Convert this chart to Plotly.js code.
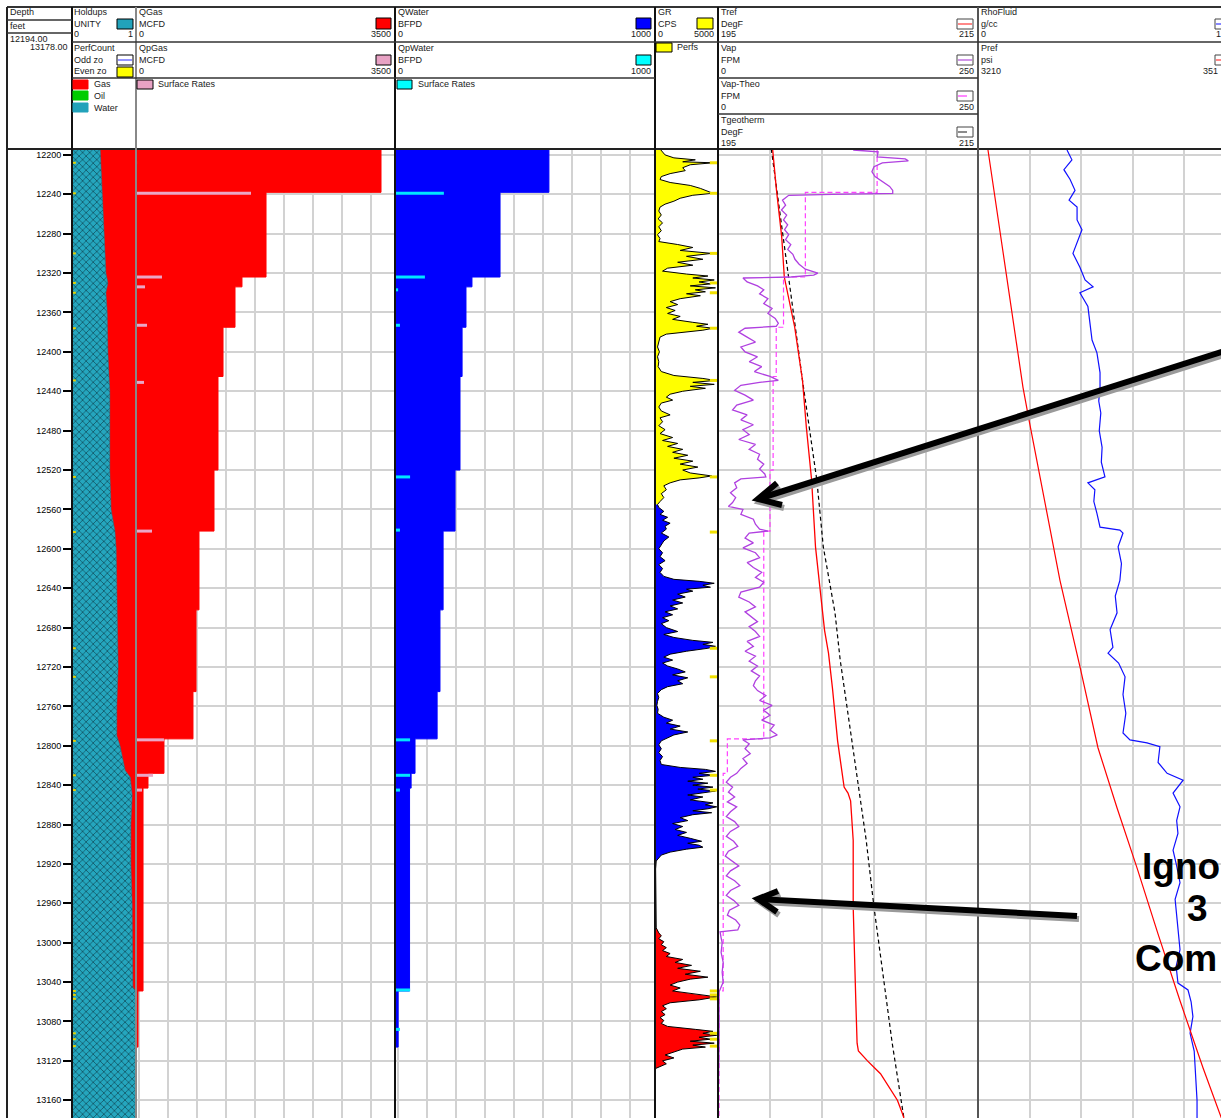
<!DOCTYPE html>
<html><head><meta charset="utf-8">
<script src="https://cdn.plot.ly/plotly-3.0.1.min.js"></script>
<style>html,body{margin:0;padding:0;overflow:hidden;background:#fff}#chart{width:1221px;height:1118px}</style>
</head><body><div id="chart"></div>
<script>
// ---------------- DATA ----------------
const depthTop = 12194, depthBottom = 13178;

const holdupDepth = [12194,12240,12280,12320,12330,12340,12360,12400,12440,12480,12520,12560,12582,12600,12640,12680,12720,12760,12790,12800,12815,12825,12832,12850,12880,12920,12960,13000,13045,13050,13178];
const holdupWater = [0.44,0.47,0.50,0.53,0.56,0.53,0.55,0.56,0.59,0.59,0.59,0.61,0.67,0.69,0.70,0.70,0.72,0.70,0.70,0.75,0.80,0.83,0.91,0.94,0.92,0.92,0.94,0.95,0.95,1.0,1.0];

const rateTops     = [12194,12238,12324,12334,12375,12425,12520,12582,12662,12745,12793,12828,12843,13049,13106];
const qgasValues   = [3311,1757,1432,1338,1176,1108,1054,851,811,770,378,162,95,27,0];
const qwaterValues = [592,404,296,273,258,250,231,185,173,162,77,62,56,12,0];

const qpgasDepth   = [12208,12239,12324,12334,12373,12431,12582,12794,12830,12845];
const qpgasValues  = [14,1554,351,122,149,108,216,378,230,81];
const qpwaterDepth = [12239,12324,12337,12373,12527,12581,12794,12830,12845,13048,13088];
const qpwaterValues= [188,115,12,19,58,19,58,58,19,58,19];

const perfDepths = [12208,12239,12300,12330,12340,12376,12429,12527,12583,12701,12730,12795,12830,12845,13049,13053,13057,13092,13098,13105];

const grDepth = [12194,12197,12200,12203,12205,12207,12208,12210,12213,12216,12219,12222,12225,12228,12231,12234,12237,12239,12241,12244,12247,12250,12253,12257,12261,12265,12269,12273,12277,12281,12285,12288,12291,12294,12297,12300,12303,12306,12309,12312,12315,12318,12321,12323,12325,12327,12329,12331,12333,12335,12337,12339,12341,12343,12346,12349,12352,12355,12358,12361,12364,12367,12370,12372,12374,12376,12378,12380,12382,12385,12390,12395,12400,12405,12410,12415,12420,12424,12427,12429,12431,12433,12435,12437,12440,12443,12446,12449,12452,12456,12460,12464,12467,12471,12475,12479,12483,12487,12490,12493,12496,12499,12502,12505,12508,12511,12514,12517,12520,12523,12526,12528,12530,12533,12536,12540,12544,12548,12552,12555,12558,12562,12565,12568,12571,12574,12577,12580,12584,12588,12592,12596,12600,12604,12608,12612,12616,12620,12624,12628,12631,12633,12635,12637,12639,12641,12643,12646,12649,12652,12655,12658,12661,12664,12667,12670,12673,12676,12680,12684,12687,12690,12693,12695,12697,12699,12701,12704,12707,12710,12713,12716,12719,12722,12725,12728,12731,12734,12737,12740,12743,12747,12751,12755,12759,12763,12767,12771,12774,12777,12780,12783,12786,12789,12792,12795,12799,12803,12807,12811,12815,12819,12822,12824,12826,12828,12830,12832,12834,12836,12838,12840,12842,12844,12846,12848,12850,12852,12855,12858,12860,12862,12864,12866,12868,12870,12873,12876,12879,12882,12885,12888,12891,12894,12897,12899,12901,12903,12905,12908,12911,12914,12917,12925,12940,12955,12970,12985,12990,12993,12996,12999,13002,13005,13008,13011,13014,13017,13020,13023,13026,13029,13032,13035,13037,13040,13043,13046,13049,13052,13055,13058,13061,13064,13067,13070,13073,13076,13079,13082,13085,13088,13090,13092,13094,13096,13098,13100,13102,13104,13106,13108,13111,13114,13117,13120,13123,13126,13128,13178];
const grValues = [400,600,800,1500,3200,2200,4600,2800,2200,2400,1200,500,400,1200,2800,3600,4300,4600,3000,2000,1500,800,400,300,500,250,600,300,500,200,400,300,1800,3000,2000,4500,2500,3800,1800,3000,1000,600,2500,4200,3000,4700,3500,4400,2800,4800,3200,4000,2500,3600,2000,1200,1800,900,1600,1000,2000,1400,3000,4200,3300,4600,3800,2500,900,400,300,200,350,200,300,250,500,1500,3800,4800,3000,4700,2800,4000,2200,1200,900,1400,500,300,500,1200,400,600,300,800,400,1400,600,1800,1000,2200,1400,2600,1500,3000,2000,3400,2200,2800,4500,3500,2000,1200,700,900,500,700,400,200,300,700,400,1000,600,1200,800,900,500,1100,700,500,300,600,400,800,300,600,400,700,1500,3500,4700,3800,4400,2500,3000,1800,2400,1400,2200,1200,1800,800,1400,600,1100,500,900,1800,700,1500,3000,4600,3800,4800,4200,2500,1200,700,1400,600,1000,1800,2400,1400,2600,1800,2200,1000,500,200,300,200,150,250,200,700,1400,900,2000,1200,2600,1500,1000,500,300,500,300,600,400,500,2000,4000,4800,3500,4600,3000,3800,2600,4200,3000,4600,3400,4800,3600,2600,3800,2800,4600,4000,4900,4200,3000,4500,3000,2000,2600,1400,2200,1600,2500,1800,2800,3700,2600,3500,3800,2500,1200,500,300,100,50,60,40,80,100,300,500,300,700,500,900,600,1200,900,2200,1600,2900,1800,3600,2400,4200,2800,1800,1200,2000,1400,3000,4900,3500,1200,600,900,500,800,400,700,500,1000,3200,4600,3800,4900,3500,4400,2800,4700,3000,4000,2200,1500,800,1500,600,900,300,0,0];
const grZoneTops    = [12194,12555,12985];
const grZoneBottoms = [12555,12917,13178];

const trefDepth  = [12194,12236,12283,12324,12375,12429,12477,12530,12598,12649,12683,12706,12741,12795,12842,12848,12856,12896,12964,13059,13102,13110,13120,13133,13147,13160,13174,13178];
const trefValues = [199.2,199.5,199.9,200.1,200.9,201.5,201.8,202.2,202.5,202.9,203.2,203.5,203.8,204.2,204.7,205.0,205.2,205.4,205.4,205.6,205.7,205.8,206.5,207.5,208.2,208.8,209.2,209.3];

const tgeoDepth  = [12194,12429,12530,12598,12665,12713,12795,12896,12964,13102,13178];
const tgeoValues = [199.1,201.5,202.6,203.1,204.0,204.4,205.3,206.4,207.0,208.4,209.3];

const vapTheoTops   = [12194,12238,12324,12375,12425,12520,12582,12793,12828,13049];
const vapTheoValues = [153,84,63,56,53,50,44,9,5,1];

const vapDepth = [12195,12197,12202,12204,12206,12208,12212,12217,12222,12227,12232,12236,12239,12240,12241,12246,12251,12256,12261,12266,12271,12276,12281,12286,12291,12296,12301,12306,12311,12316,12320,12322,12324,12325,12329,12333,12337,12341,12346,12351,12356,12361,12366,12371,12374,12376,12380,12385,12390,12395,12400,12405,12410,12415,12420,12425,12429,12431,12434,12439,12444,12449,12454,12459,12464,12469,12474,12479,12484,12489,12494,12499,12504,12509,12514,12519,12524,12527,12529,12533,12538,12543,12548,12553,12557,12560,12565,12570,12575,12580,12582,12584,12589,12594,12599,12604,12609,12614,12619,12624,12629,12634,12639,12644,12649,12654,12659,12664,12669,12674,12679,12684,12689,12694,12699,12704,12709,12714,12719,12724,12729,12734,12739,12744,12749,12754,12759,12764,12769,12774,12779,12784,12789,12792,12794,12798,12803,12808,12813,12818,12823,12828,12832,12837,12842,12847,12852,12857,12862,12867,12872,12877,12882,12887,12892,12897,12902,12907,12912,12917,12922,12927,12932,12937,12942,12947,12952,12957,12962,12967,12972,12977,12982,12987,12989,12995,13000,13010,13020,13030,13040,13045,13050,13100,13178];
const vapValues = [130,154,153,180,183,158,150,148,151,158,165,168,168,110,68,62,65,61,66,63,67,64,68,65,70,67,72,74,78,84,96,92,70,24,28,38,44,40,48,44,52,48,55,58,56,26,20,28,36,22,26,38,30,42,35,50,58,40,22,16,26,34,18,14,28,22,34,24,30,20,36,30,40,38,44,40,45,46,22,16,18,12,17,14,10,24,22,34,36,40,48,30,26,34,24,36,40,28,34,42,36,44,40,22,20,30,36,26,32,38,30,36,40,28,34,26,36,30,38,32,40,36,34,38,46,40,52,44,50,42,54,50,57,50,24,30,26,31,24,28,22,18,12,8,14,10,16,9,18,12,8,16,20,12,8,15,19,10,7,14,20,12,8,16,21,12,8,15,20,11,9,17,21,19,2,3,4,3,5,4,5,3,1,1,0];

const rhoDepth  = [12195,12205,12215,12225,12236,12246,12253,12266,12276,12286,12300,12314,12327,12334,12340,12354,12371,12388,12401,12421,12436,12450,12462,12480,12497,12512,12527,12533,12540,12552,12564,12578,12581,12584,12598,12615,12632,12648,12665,12682,12700,12706,12716,12730,12748,12767,12787,12794,12797,12801,12817,12828,12835,12848,12862,12876,12889,12906,12922,12939,12956,12974,12990,13007,13024,13041,13048,13060,13075,13092,13110,13126,13143,13160,13178];
const rhoValues = [0.345,0.364,0.333,0.357,0.376,0.353,0.384,0.384,0.403,0.388,0.368,0.395,0.415,0.446,0.395,0.426,0.434,0.442,0.461,0.473,0.473,0.468,0.476,0.470,0.481,0.478,0.492,0.426,0.453,0.449,0.461,0.473,0.550,0.562,0.543,0.556,0.550,0.532,0.539,0.512,0.523,0.504,0.545,0.570,0.562,0.573,0.562,0.589,0.655,0.705,0.698,0.733,0.795,0.756,0.783,0.770,0.775,0.756,0.770,0.783,0.764,0.771,0.778,0.783,0.768,0.775,0.814,0.826,0.833,0.822,0.838,0.841,0.845,0.849,0.849];

const prefDepth  = [12195,12436,12469,12564,12632,12720,12802,12863,12924,12991,13059,13127,13174,13178];
const prefValues = [3221.6,3262.3,3269.3,3290.2,3305.3,3328.6,3349.5,3371.6,3394.9,3419.3,3444.9,3471.6,3491.4,3493];

// ---------------- HELPERS ----------------
const W = 1221, H = 1118;
const px = x => x / W, py = y => 1 - y / H;
const FONT = 'Arial, "Liberation Sans", sans-serif';

function stepXY(tops, vals, bottom) {
  const x = vals.slice(), y = tops.slice();
  x.push(vals[vals.length - 1]); y.push(bottom);
  return {x, y};
}
function segs(depths, vals, base) {
  const x = [], y = [];
  depths.forEach((d, i) => { x.push(base, vals[i], null); y.push(d, d, null); });
  return {x, y};
}
function zone(dep, val, top, bot) {
  const x = [], y = [];
  dep.forEach((d, i) => { if (d >= top && d <= bot) { x.push(val[i]); y.push(d); } });
  return {x, y};
}

// ---------------- TRACES ----------------
const traces = [];
// Holdups
traces.push({x:[1,1], y:[depthTop, depthBottom], xaxis:'x', yaxis:'y', mode:'lines', line:{width:0, color:'#ff0000'}, fill:'tozerox', fillcolor:'#ff0000', hoverinfo:'skip'});
traces.push({x:holdupWater, y:holdupDepth, xaxis:'x', yaxis:'y', mode:'lines', line:{width:0.5, color:'#1b7f93'}, fill:'tozerox', fillcolor:'#22a2ba',
  fillpattern:{shape:'x', bgcolor:'#25a6be', fgcolor:'#082c38', size:5, solidity:0.2}, hoverinfo:'skip'});
const hp = segs(perfDepths, perfDepths.map(() => 0.06), 0);
traces.push({x:hp.x, y:hp.y, xaxis:'x', yaxis:'y', mode:'lines', line:{color:'#e6d200', width:2}, hoverinfo:'skip'});

// QGas
const qg = stepXY(rateTops, qgasValues, depthBottom);
traces.push({x:qg.x, y:qg.y, xaxis:'x2', yaxis:'y', mode:'lines', line:{shape:'vh', color:'#ff0000', width:1}, fill:'tozerox', fillcolor:'#ff0000'});
const qpg = segs(qpgasDepth, qpgasValues, 0);
traces.push({x:qpg.x, y:qpg.y, xaxis:'x2', yaxis:'y', mode:'lines', line:{color:'#eaa6c6', width:3}});

// QWater
const qw = stepXY(rateTops, qwaterValues, depthBottom);
traces.push({x:qw.x, y:qw.y, xaxis:'x3', yaxis:'y', mode:'lines', line:{shape:'vh', color:'#0000ff', width:1}, fill:'tozerox', fillcolor:'#0000ff'});
const qpw = segs(qpwaterDepth, qpwaterValues, 0);
traces.push({x:qpw.x, y:qpw.y, xaxis:'x3', yaxis:'y', mode:'lines', line:{color:'#00e5ff', width:3}});

// GR zones
const grFill = ['#ffff00', '#0000ff', '#ff0000'];
grZoneTops.forEach((t, i) => {
  const z = zone(grDepth, grValues, t, grZoneBottoms[i]);
  traces.push({x:z.x, y:z.y, xaxis:'x4', yaxis:'y2', mode:'lines', line:{width:0, color:grFill[i]}, fill:'tozerox', fillcolor:grFill[i]});
});
traces.push({x:grValues, y:grDepth, xaxis:'x4', yaxis:'y2', mode:'lines', line:{color:'#000', width:1}});
const gp = segs(perfDepths, perfDepths.map(() => 5000), 4350);
traces.push({x:gp.x, y:gp.y, xaxis:'x4', yaxis:'y2', mode:'lines', line:{color:'#f0e000', width:3}});

// Temperature / velocity track
traces.push({x:tgeoValues, y:tgeoDepth, xaxis:'x5', yaxis:'y', mode:'lines', line:{color:'#000', width:1.2, dash:'4px,3px'}});
traces.push({x:trefValues, y:trefDepth, xaxis:'x5', yaxis:'y', mode:'lines', line:{color:'#ff0000', width:1.3}});
const vt = stepXY(vapTheoTops, vapTheoValues, depthBottom);
traces.push({x:vt.x, y:vt.y, xaxis:'x6', yaxis:'y', mode:'lines', line:{shape:'vh', color:'#ff40ff', width:1.2, dash:'5px,3px'}});
traces.push({x:vapValues, y:vapDepth, xaxis:'x6', yaxis:'y', mode:'lines', line:{color:'#b040e0', width:1.3}});

// Rho / pressure track
traces.push({x:rhoValues, y:rhoDepth, xaxis:'x7', yaxis:'y', mode:'lines', line:{color:'#1010ff', width:1.2}});
traces.push({x:prefValues, y:prefDepth, xaxis:'x8', yaxis:'y', mode:'lines', line:{color:'#ff0000', width:1.2}});

// ---------------- LAYOUT ----------------
const GRID = '#d2d2d2';
const yTop = py(149);
const rhoVisible = (W - 978) / 258;
const gridX = (dom, range, tick0, dtick) => ({domain:dom, range, anchor:'y', showgrid:true, gridcolor:GRID, gridwidth:2, tick0, dtick,
  showticklabels:false, ticks:'', zeroline:false, showline:false, fixedrange:true});

const shapes = [];
const L = (x0, y0, x1, y1, color = '#333', width = 1.5, dash) => shapes.push({type:'line', xref:'paper', yref:'paper',
  x0:px(x0), y0:py(y0), x1:px(x1), y1:py(y1), line:{color, width, dash}});
const R = (x0, y0, x1, y1, fill, lc = '#000') => shapes.push({type:'rect', xref:'paper', yref:'paper',
  x0:px(x0), y0:py(y0), x1:px(x1), y1:py(y1), fillcolor:fill, line:{color:lc, width:1}});
const P = (pts, color, width) => shapes.push({type:'path', xref:'paper', yref:'paper',
  path: pts.map((p, i) => (i ? 'L ' : 'M ') + px(p[0]) + ' ' + py(p[1])).join(' '), line:{color, width}});

// header frame
L(7, 7, W, 7, '#333', 2);
L(7, 149, W, 149, '#222', 2);
[[7,'#222',2],[72,'#111',2],[136,'#888',2],[395,'#111',2],[655,'#111',2],[718,'#111',2],[978,'#555',2]].forEach(([x,c,w]) => L(x, 7, x, H, c, w));
L(7, 20, 72, 20); L(7, 33, 72, 33);
[[72,136],[136,395],[395,655]].forEach(([a,b]) => { L(a, 42, b, 42); L(a, 78, b, 78); });
L(655, 42, 718, 42);
L(718, 42, 978, 42); L(718, 78, 978, 78); L(718, 114, 978, 114);
L(978, 42, W, 42);

// header swatches
R(117, 19, 133, 29, '#22a2ba');
R(117, 55, 133, 65, '#ffffff'); L(118, 60, 132, 60, '#7070ff', 1.5);
R(117, 67, 133, 77, '#ffff00');
R(73, 80, 88, 89, '#ff0000', '#ff0000');
R(73, 91, 88, 100, '#00cc00', '#00cc00');
R(73, 103, 88, 112, '#22a2ba', '#22a2ba');
R(376, 18, 391, 29, '#ff0000');
R(376, 55, 391, 65, '#e8a2c4');
R(137, 80, 153, 89, '#e8a2c4');
R(636, 18, 651, 29, '#0000ff');
R(636, 55, 651, 65, '#00ffff');
R(397, 80, 412, 89, '#00ffff');
R(697, 18, 713, 29, '#ffff00');
R(656, 43, 672, 52, '#ffff00');
R(957, 19, 973, 29, '#ffffff', '#444'); L(958, 24, 972, 24, '#ff6060', 1.5);
R(957, 55, 973, 65, '#ffffff', '#444'); L(958, 60, 972, 60, '#c070e0', 1.5);
R(957, 91, 973, 101, '#ffffff', '#444'); L(958, 96, 972, 96, '#ff60ff', 1.5, 'dash');
R(957, 127, 973, 137, '#ffffff', '#444'); L(958, 132, 972, 132, '#666', 1.5, 'dash');
R(1215, 19, 1231, 29, '#ffffff', '#444'); L(1216, 24, 1230, 24, '#6060ff', 1.5);
R(1215, 55, 1231, 65, '#ffffff', '#444'); L(1216, 60, 1230, 60, '#ff6060', 1.5);

// arrows (shadow then black)
const arrow1 = [[1250, 343], [758, 499]], head1 = [[777, 483], [758, 499], [782, 505]];
const arrow2 = [[1077, 916], [758, 899]], head2 = [[778, 891], [758, 899], [777, 912]];
const off = pts => pts.map(p => [p[0] + 2, p[1] + 3]);
P(off(arrow1), '#9a9a9a', 6); P(off(head1), '#9a9a9a', 6);
P(off(arrow2), '#9a9a9a', 6); P(off(head2), '#9a9a9a', 6);
P(arrow1, '#000', 6); P(head1, '#000', 6);
P(arrow2, '#000', 6); P(head2, '#000', 6);

// header texts
const annotations = [];
const T = (text, x, y, anchor = 'left', size = 9, extra = {}) => annotations.push(Object.assign({text, x:px(x), y:py(y), xref:'paper', yref:'paper',
  xanchor:anchor, yanchor:'middle', showarrow:false, borderpad:0, font:{family:FONT, size, color:'#1a1a1a'}}, extra));
T('Depth', 9, 12); T('feet', 9, 26); T('12194.00', 9, 39); T('13178.00', 69, 47, 'right');
T('Holdups', 73, 12); T('UNITY', 73, 24); T('0', 73, 34); T('1', 134, 34, 'right');
T('PerfCount', 73, 48); T('Odd zo', 73, 60); T('Even zo', 73, 71);
T('Gas', 93, 84); T('Oil', 93, 96); T('Water', 93, 108);
T('QGas', 138, 12); T('MCFD', 138, 24); T('0', 138, 34); T('3500', 392, 34, 'right');
T('QpGas', 138, 48); T('MCFD', 138, 60); T('0', 138, 71); T('3500', 392, 71, 'right');
T('Surface Rates', 157, 84);
T('QWater', 397, 12); T('BFPD', 397, 24); T('0', 397, 34); T('1000', 652, 34, 'right');
T('QpWater', 397, 48); T('BFPD', 397, 60); T('0', 397, 71); T('1000', 652, 71, 'right');
T('Surface Rates', 417, 84);
T('GR', 657, 12); T('CPS', 657, 24); T('0', 657, 34); T('5000', 715, 34, 'right'); T('Perfs', 676, 47);
T('Tref', 720, 12); T('DegF', 720, 24); T('195', 720, 34); T('215', 975, 34, 'right');
T('Vap', 720, 48); T('FPM', 720, 60); T('0', 720, 71); T('250', 975, 71, 'right');
T('Vap-Theo', 720, 84); T('FPM', 720, 96); T('0', 720, 107); T('250', 975, 107, 'right');
T('Tgeotherm', 720, 120); T('DegF', 720, 132); T('195', 720, 143); T('215', 975, 143, 'right');
T('RhoFluid', 980, 12); T('g/cc', 980, 24); T('0', 980, 34); T('1', 1215, 34);
T('Pref', 980, 48); T('psi', 980, 60); T('3210', 980, 71); T('351', 1202, 71);
// callout text (as visible in the reference, which is cropped at the right edge)
const big = {font:{family:'"Liberation Sans", Arial, sans-serif', size:37, color:'#000', weight:'bold'}};
T('<b>Igno</b>', 1141, 866, 'left', 37, big);
T('<b>3</b>', 1197, 908, 'center', 37, big);
T('<b>Com</b>', 1134, 958, 'left', 37, big);

const layout = {
  width: W, height: H, margin:{l:0, r:0, t:0, b:0}, paper_bgcolor:'#fff', plot_bgcolor:'#fff', showlegend:false,
  hovermode:false, dragmode:false,
  yaxis:{domain:[0, yTop], range:[depthBottom, depthTop], anchor:'free', position:px(72), side:'left',
    showline:true, linecolor:'#000', linewidth:2, ticks:'outside', ticklen:8, tickwidth:2, tickcolor:'#000',
    tick0:12200, dtick:40, tickformat:'d', tickfont:{family:FONT, size:9, color:'#000'},
    showgrid:true, gridcolor:GRID, gridwidth:2, zeroline:false, fixedrange:true},
  yaxis2:{domain:[0, yTop], range:[depthBottom, depthTop], matches:'y', anchor:'x4', visible:false, showgrid:false},
  xaxis:{domain:[px(72), px(136)], range:[0, 1], anchor:'y', visible:false},
  xaxis2: gridX([px(136), px(395)], [0, 3500], 40, 392),
  xaxis3: gridX([px(395), px(655)], [0, 1000], 12, 111.5),
  xaxis4:{domain:[px(655), px(718)], range:[0, 5000], anchor:'y2', visible:false},
  xaxis5: gridX([px(718), px(978)], [195, 215], 195, 4),
  xaxis6:{overlaying:'x5', range:[0, 250], anchor:'y', visible:false},
  xaxis7: gridX([px(978), 1], [0, rhoVisible], 0, 0.2),
  xaxis8:{overlaying:'x7', range:[3210, 3210 + 300 * rhoVisible], anchor:'y', visible:false},
  shapes, annotations
};

Plotly.newPlot('chart', traces, layout, {staticPlot:true, displayModeBar:false});
</script>
</body></html>
